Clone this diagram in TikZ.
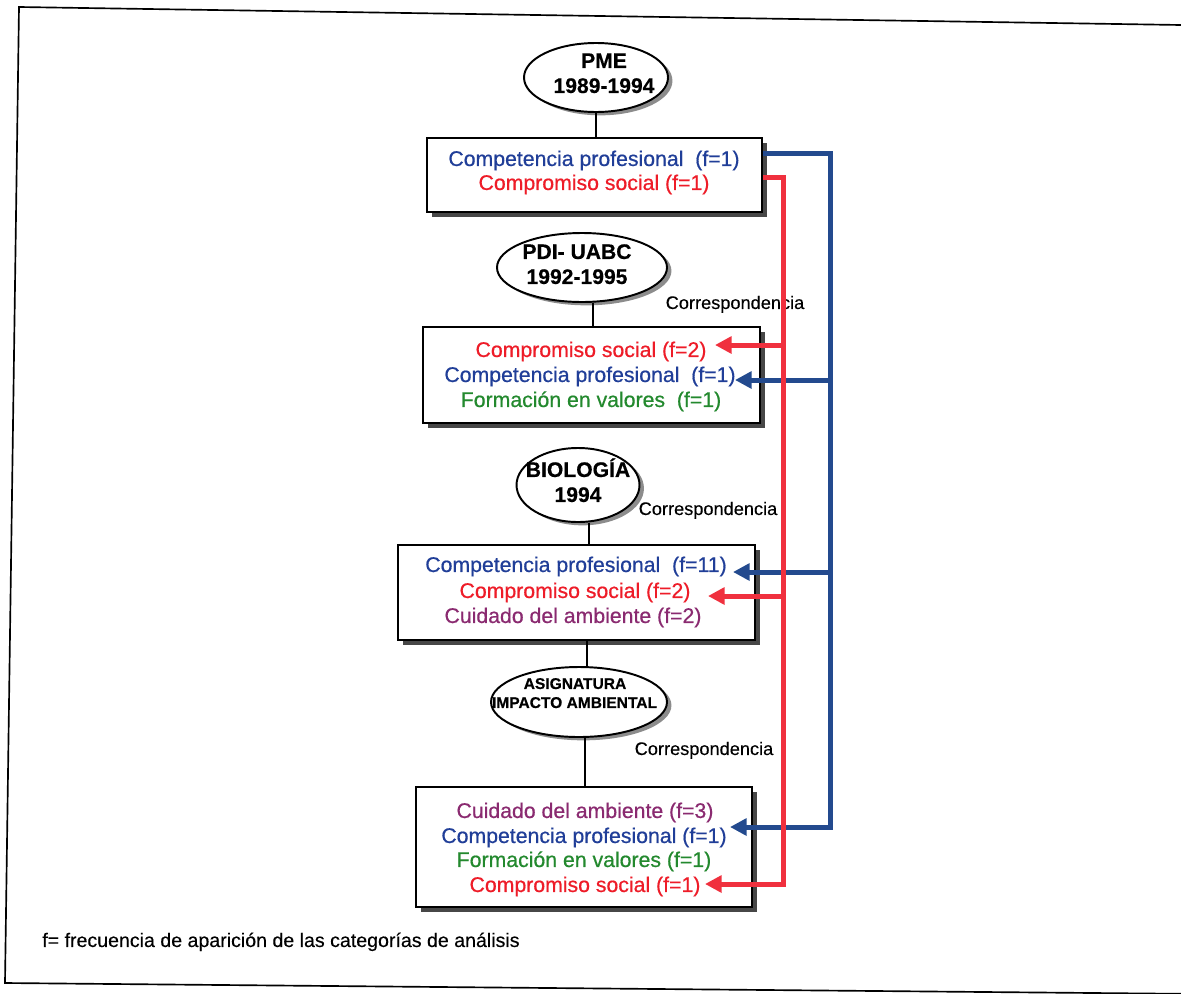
\documentclass[tikz,border=0pt]{standalone}
\usepackage{fontspec}
\setmainfont{Liberation Sans}
% slightly heavier faces for the category lines and the period titles
\newfontfamily\catface[FakeBold=0.6]{Liberation Sans}
\newfontfamily\titleface[BoldFeatures={FakeBold=0.5}]{Liberation Sans}
\newfontfamily\labelface[FakeBold=0.25]{Liberation Sans}
\usetikzlibrary{shapes.geometric,shadows,arrows.meta}
\definecolor{cblue}{HTML}{203E98}
\definecolor{cred}{HTML}{EE1C28}
\definecolor{cgreen}{HTML}{23892E}
\definecolor{cpurple}{HTML}{8A2A70}
\definecolor{lblue}{HTML}{234A8E}
\definecolor{lred}{HTML}{F0303E}
\begin{document}
\begin{tikzpicture}[x=0.72pt,y=-0.72pt,
  period/.style={ellipse, draw=black, line width=1.4pt, fill=white, inner sep=0pt,
    drop shadow={shadow xshift=3.2pt, shadow yshift=-2.4pt, fill=black!45, opacity=1}},
  ptext/.style={inner sep=0pt, font=\titleface\fontsize{15.2}{17}\selectfont\bfseries, text height=0.716em, text depth=0pt},
  psmall/.style={inner sep=0pt, font=\titleface\fontsize{11.2}{13}\selectfont\bfseries, text height=0.716em, text depth=0pt},
  catbox/.style={rectangle, draw=black, line width=1.4pt, fill=white, inner sep=0pt,
    drop shadow={shadow xshift=3.4pt, shadow yshift=-3.4pt, fill=black!72, opacity=1}},
  cat/.style={inner sep=0pt, font=\catface\fontsize{15.3}{18}\selectfont, text height=0.716em, text depth=0pt},
  corr/.style={inner sep=0pt, font=\labelface\fontsize{13.1}{15}\selectfont, text height=0.716em, text depth=0pt},
  link/.style={draw=black, line width=1.1pt},
  bluerun/.style={draw=lblue, line width=3.6pt, line join=miter},
  redrun/.style={draw=lred, line width=3.6pt, line join=miter},
  tip/.style={-{Triangle[length=12pt,width=12pt]}},
]
\useasboundingbox (0,0) rectangle (1181,993);
\fill[white] (0,0) rectangle (1181,993);

% page frame
\draw[line width=1.2pt] (1181,25) -- (19,7) -- (5,983) -- (1181,993.8);

% periods
\node[period, minimum width=144*0.72pt, minimum height=69*0.72pt] (e1) at (596,77.5) {};
\node[ptext] (e1a) at (604,63) {PME};
\node[ptext] (e1b) at (604,88) {1989-1994};

\node[period, minimum width=170*0.72pt, minimum height=69*0.72pt] (e2) at (582,267.5) {};
\node[ptext] (e2a) at (577,254) {PDI- UABC};
\node[ptext] (e2b) at (577,279) {1992-1995};

\node[period, minimum width=123*0.72pt, minimum height=74*0.72pt] (e3) at (578,485) {};
\node[ptext] (e3a) at (578,472) {BIOLOGÍA};
\node[ptext] (e3b) at (578,497) {1994};

\node[period, minimum width=176*0.72pt, minimum height=70*0.72pt] (e4) at (579,702) {};
\node[psmall] (e4a) at (575,684) {ASIGNATURA};
\node[psmall] (e4b) at (574.5,703) {IMPACTO AMBIENTAL};

% category boxes
\node[catbox, minimum width=335*0.72pt, minimum height=74*0.72pt] (b1) at (594.5,175) {};
\node[catbox, minimum width=337*0.72pt, minimum height=96*0.72pt] (b2) at (591.5,375) {};
\node[catbox, minimum width=357*0.72pt, minimum height=95*0.72pt] (b3) at (576.5,592.5) {};
\node[catbox, minimum width=336*0.72pt, minimum height=120*0.72pt] (b4) at (584,847) {};

% vertical links between periods and boxes
\draw[link] (e1.south -| 596,0) -- (b1.north -| 596,0);
\draw[link] (e2.south -| 593,0) -- (b2.north -| 593,0);
\draw[link] (e3.south -| 589,0) -- (b3.north -| 589,0);
\draw[link] (b3.south -| 587,0) -- (e4.north -| 587,0);
\draw[link] (e4.south -| 585,0) -- (b4.north -| 585,0);

% categories
\node[cat, text=cblue] (t11) at (594,161) {Competencia profesional\ \ (f=1)};
\node[cat, text=cred] (t12) at (594,185) {Compromiso social (f=1)};

\node[cat, text=cred] (t21) at (591,352) {Compromiso social (f=2)};
\node[cat, text=cblue] (t22) at (590,377) {Competencia profesional\ \ (f=1)};
\node[cat, text=cgreen] (t23) at (591,402) {Formación en valores\ \ (f=1)};

\node[cat, text=cblue] (t31) at (576,567) {Competencia profesional\ \ (f=11)};
\node[cat, text=cred] (t32) at (575,593) {Compromiso social (f=2)};
\node[cat, text=cpurple] (t33) at (573,618) {Cuidado del ambiente (f=2)};

\node[cat, text=cpurple] (t41) at (585,813) {Cuidado del ambiente (f=3)};
\node[cat, text=cblue] (t42) at (584,838) {Competencia profesional (f=1)};
\node[cat, text=cgreen] (t43) at (584,862) {Formación en valores (f=1)};
\node[cat, text=cred] (t44) at (585,887) {Compromiso social (f=1)};

% correspondence labels
\node[corr] (c1) at (735,304) {Correspondencia};
\node[corr] (c2) at (708,510) {Correspondencia};
\node[corr] (c3) at (704,750) {Correspondencia};

% note
\node[corr, anchor=west, font=\labelface\fontsize{14.1}{16}\selectfont] (note) at (42,942)
  {f= frecuencia de aparición de las categorías de análisis};

% correspondence runs
\coordinate (bt1) at (830,153);
\coordinate (bt2) at (830,380);
\coordinate (bt3) at (830,572);
\coordinate (bt4) at (830,827);
\coordinate (ab2) at (735,380);
\coordinate (ab3) at (733,572);
\coordinate (ab4) at (730,827);
\coordinate (rt1) at (783,177);
\coordinate (rt2) at (783,345);
\coordinate (rt3) at (783,596);
\coordinate (rt4) at (783,884);
\coordinate (ar2) at (715,345);
\coordinate (ar3) at (708,596);
\coordinate (ar4) at (705,884);

\draw[bluerun, tip] (b1.east |- bt1) -- (bt1) -- (bt4) -- (ab4);
\draw[bluerun, tip] (bt2) -- (ab2);
\draw[bluerun, tip] (bt3) -- (ab3);

\draw[redrun, tip] (b1.east |- rt1) -- (rt1) -- (rt4) -- (ar4);
\draw[redrun, tip] (rt2) -- (ar2);
\draw[redrun, tip] (rt3) -- (ar3);
\end{tikzpicture}
\end{document}
